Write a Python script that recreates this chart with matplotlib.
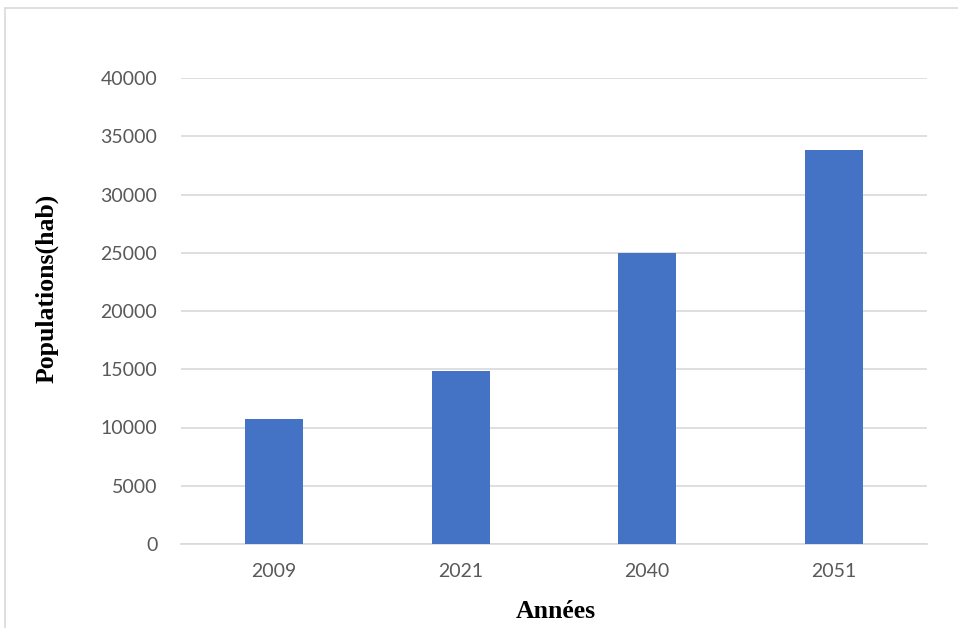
import matplotlib
matplotlib.use("Agg")
import matplotlib.pyplot as plt
from matplotlib.patches import Rectangle

years = ["2009", "2021", "2040", "2051"]
population = [10700, 14850, 25000, 33800]
y_ticks = [0, 5000, 10000, 15000, 20000, 25000, 30000, 35000, 40000]

W, H = 958, 628
fig = plt.figure(figsize=(W / 100, H / 100), dpi=100)

# chart frame (runs past the right and bottom edges)
fig.patches.append(Rectangle((5 / W, -0.1), 1.2, 1 - 8 / H + 0.1,
                             transform=fig.transFigure, fill=False,
                             edgecolor="#d9d9d9", linewidth=1.2))

ax = fig.add_axes([181 / W, 1 - 544 / H, (927 - 181) / W, (544 - 78) / H])
x = range(len(years))
ax.bar(x, population, width=0.31, color="#4472c4", zorder=3)

ax.set_xlim(-0.5, len(years) - 0.5)
ax.set_ylim(0, 40000)
ax.set_yticks(y_ticks)
ax.set_yticklabels([str(v) for v in y_ticks])
ax.set_xticks(list(x))
ax.set_xticklabels(years)
ax.grid(axis="y", color="#d9d9d9", linewidth=1.2, zorder=0)
for s in ["top", "right", "left"]:
    ax.spines[s].set_visible(False)
ax.spines["bottom"].set_color("#d9d9d9")
ax.spines["bottom"].set_linewidth(1.2)
ax.tick_params(axis="both", length=0, labelsize=14, labelcolor="#595959")
ax.tick_params(axis="y", pad=17)
ax.tick_params(axis="x", pad=14)
for lab in ax.get_xticklabels() + ax.get_yticklabels():
    lab.set_family("Lato")

fig.text(556 / W, 1 - 612 / H, "Années", ha="center", va="center",
         family="Liberation Serif", fontweight="bold", fontsize=18.5)
fig.text(47 / W, 1 - 288 / H, "Populations(hab)", ha="center", va="center",
         rotation=90, family="Liberation Serif", fontweight="bold", fontsize=18.5)

fig.savefig("out.png", dpi=100)
